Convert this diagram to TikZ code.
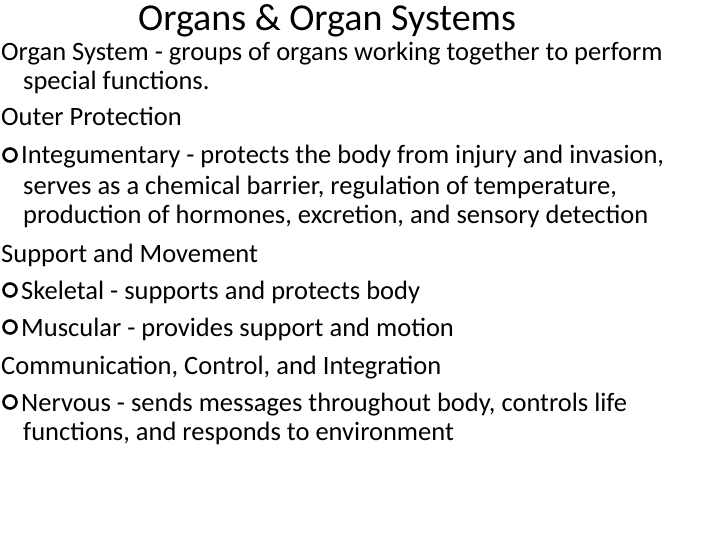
\documentclass[tikz,border=0pt]{standalone}
\usepackage{fontspec}
\setmainfont{Carlito}
\begin{document}
\begin{tikzpicture}[x=1pt,y=-1pt,
  txt/.style={anchor=base west,inner sep=0pt,font=\fontsize{26.5}{32}\selectfont},
  bul/.style={draw,line width=2.6pt,circle,minimum size=13pt,inner sep=0pt}]
\useasboundingbox (0,0) rectangle (720,540);
\node[anchor=base,inner sep=0pt,font=\fontsize{38}{44}\selectfont] (title) at (327,31) {Organs \& Organ Systems};
\node[txt] (l1) at (1,61) {Organ System - groups of organs working together to perform};
\node[txt] (l2) at (23,90) {special functions.};
\node[txt] (l3) at (1,126) {Outer Protection};
\node[bul] (b1) at (10,155) {};
\node[txt] (l4) at (21,164) {Integumentary - protects the body from injury and invasion,};
\node[txt] (l5) at (23,195) {serves as a chemical barrier, regulation of temperature,};
\node[txt] (l6) at (23,224) {production of hormones, excretion, and sensory detection};
\node[txt] (l7) at (1,262) {Support and Movement};
\node[bul] (b2) at (10,290) {};
\node[txt] (l8) at (21,299) {Skeletal - supports and protects body};
\node[bul] (b3) at (10,327) {};
\node[txt] (l9) at (21,336) {Muscular - provides support and motion};
\node[txt] (l10) at (1,374) {Communication, Control, and Integration};
\node[bul] (b4) at (10,402) {};
\node[txt] (l11) at (21,411) {Nervous - sends messages throughout body, controls life};
\node[txt] (l12) at (23,440) {functions, and responds to environment};
\end{tikzpicture}
\end{document}
